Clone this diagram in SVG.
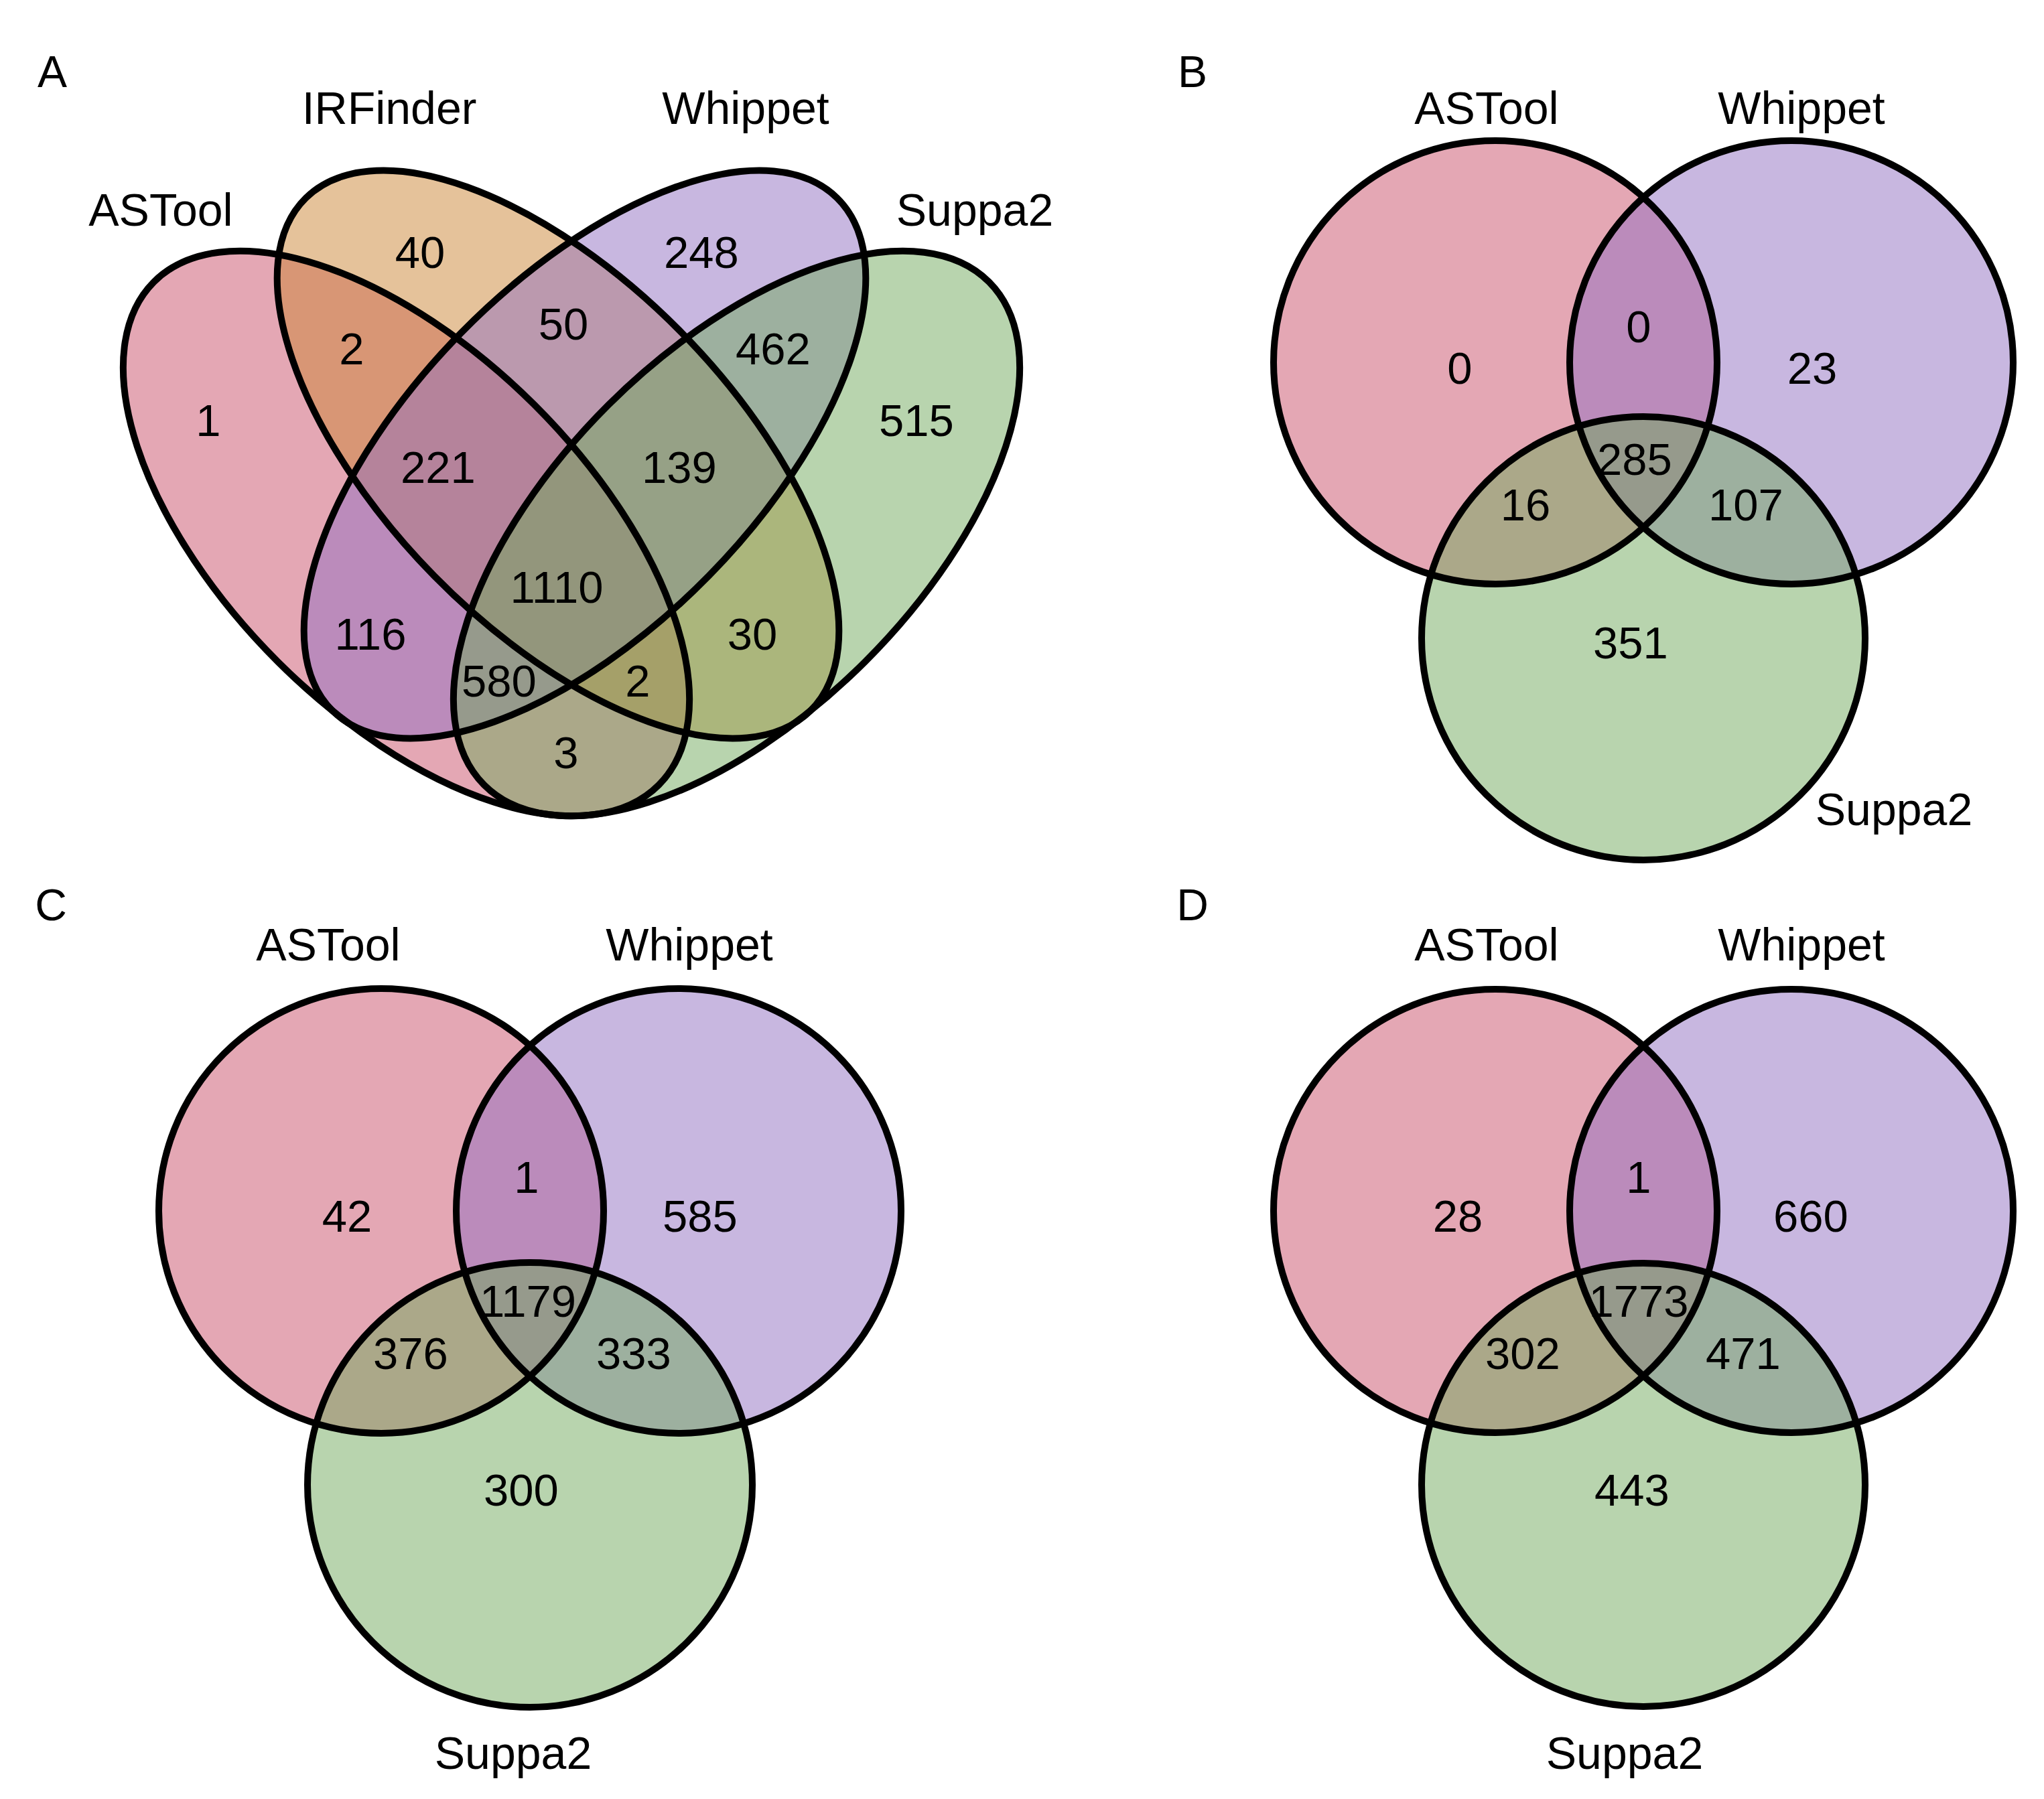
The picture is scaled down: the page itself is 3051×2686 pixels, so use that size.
<svg xmlns="http://www.w3.org/2000/svg" xmlns:xlink="http://www.w3.org/1999/xlink" width="3051" height="2686" viewBox="0 0 3051 2686">
<style>
text{font-family:"Liberation Sans",Arial,sans-serif;fill:#000;text-anchor:middle}
.lab{font-size:68px}
.num{font-size:67px}
.pl{font-size:66px}
.o{fill:none;stroke:#000;stroke-width:10}
.pk{fill:#C94F69;fill-opacity:.5}
.or{fill:#CB8535;fill-opacity:.5}
.pu{fill:#916FC1;fill-opacity:.5}
.gr{fill:#71A95D;fill-opacity:.5}
</style>
<defs>
<ellipse id="eA1" cx="606.5" cy="796.5" rx="532" ry="271" transform="rotate(44.9 606.5 796.5)"/>
<ellipse id="eA2" cx="833" cy="678.5" rx="537" ry="259" transform="rotate(45.5 833 678.5)"/>
<ellipse id="eA3" cx="873" cy="678.5" rx="537" ry="259" transform="rotate(-45.5 873 678.5)"/>
<ellipse id="eA4" cx="1099.5" cy="796.5" rx="532" ry="271" transform="rotate(-44.9 1099.5 796.5)"/>
</defs>
<rect width="3051" height="2686" fill="#fff"/>

<g id="panelA">
<g id="A-fills">
<use id="A-ASTool" xlink:href="#eA1" class="pk"/>
<use id="A-IRFinder" xlink:href="#eA2" class="or"/>
<use id="A-Whippet" xlink:href="#eA3" class="pu"/>
<use id="A-Suppa2" xlink:href="#eA4" class="gr"/>
</g>
<g id="A-outlines">
<use xlink:href="#eA1" class="o"/>
<use xlink:href="#eA2" class="o"/>
<use xlink:href="#eA3" class="o"/>
<use xlink:href="#eA4" class="o"/>
</g>
<text class="pl" x="78" y="130">A</text>
<text class="lab" x="240" y="337">ASTool</text>
<text class="lab" x="581" y="185">IRFinder</text>
<text class="lab" x="1113" y="185">Whippet</text>
<text class="lab" x="1455" y="337">Suppa2</text>
<text class="num" x="627" y="400">40</text>
<text class="num" x="1047" y="400">248</text>
<text class="num" x="525" y="544">2</text>
<text class="num" x="841" y="507">50</text>
<text class="num" x="1154" y="544">462</text>
<text class="num" x="311" y="651">1</text>
<text class="num" x="1368" y="651">515</text>
<text class="num" x="654" y="721">221</text>
<text class="num" x="1014" y="721">139</text>
<text class="num" x="831" y="900">1110</text>
<text class="num" x="553" y="970">116</text>
<text class="num" x="1123" y="970">30</text>
<text class="num" x="745" y="1040">580</text>
<text class="num" x="952" y="1040">2</text>
<text class="num" x="845" y="1147">3</text>
</g>

<g id="panelB">
<g id="B-fills">
<circle id="B-ASTool" class="pk" cx="2232" cy="541" r="331"/>
<circle id="B-Whippet" class="pu" cx="2674" cy="541" r="331"/>
<circle id="B-Suppa2" class="gr" cx="2453" cy="953" r="331"/>
</g>
<g id="B-outlines" class="o">
<circle cx="2232" cy="541" r="331"/>
<circle cx="2674" cy="541" r="331"/>
<circle cx="2453" cy="953" r="331"/>
</g>
<text class="pl" x="1780" y="130">B</text>
<text class="lab" x="2219" y="185">ASTool</text>
<text class="lab" x="2689" y="185">Whippet</text>
<text class="lab" x="2827" y="1232">Suppa2</text>
<text class="num" x="2179" y="573">0</text>
<text class="num" x="2446" y="511">0</text>
<text class="num" x="2705" y="573">23</text>
<text class="num" x="2440" y="709">285</text>
<text class="num" x="2277" y="777">16</text>
<text class="num" x="2606" y="777">107</text>
<text class="num" x="2434" y="983">351</text>
</g>

<g id="panelC">
<g id="C-fills">
<circle id="C-ASTool" class="pk" cx="569" cy="1808" r="332"/>
<circle id="C-Whippet" class="pu" cx="1013" cy="1808" r="332"/>
<circle id="C-Suppa2" class="gr" cx="791" cy="2217" r="332"/>
</g>
<g id="C-outlines" class="o">
<circle cx="569" cy="1808" r="332"/>
<circle cx="1013" cy="1808" r="332"/>
<circle cx="791" cy="2217" r="332"/>
</g>
<text class="pl" x="76" y="1374">C</text>
<text class="lab" x="490" y="1434">ASTool</text>
<text class="lab" x="1029" y="1434">Whippet</text>
<text class="lab" x="766" y="2641">Suppa2</text>
<text class="num" x="518" y="1839">42</text>
<text class="num" x="786" y="1781">1</text>
<text class="num" x="1045" y="1839">585</text>
<text class="num" x="788" y="1966">1179</text>
<text class="num" x="613" y="2044">376</text>
<text class="num" x="946" y="2044">333</text>
<text class="num" x="778" y="2248">300</text>
</g>

<g id="panelD">
<g id="D-fills">
<circle id="D-ASTool" class="pk" cx="2232" cy="1808" r="331"/>
<circle id="D-Whippet" class="pu" cx="2674" cy="1808" r="331"/>
<circle id="D-Suppa2" class="gr" cx="2453" cy="2217" r="331"/>
</g>
<g id="D-outlines" class="o">
<circle cx="2232" cy="1808" r="331"/>
<circle cx="2674" cy="1808" r="331"/>
<circle cx="2453" cy="2217" r="331"/>
</g>
<text class="pl" x="1780" y="1374">D</text>
<text class="lab" x="2219" y="1434">ASTool</text>
<text class="lab" x="2689" y="1434">Whippet</text>
<text class="lab" x="2425" y="2641">Suppa2</text>
<text class="num" x="2176" y="1839">28</text>
<text class="num" x="2446" y="1781">1</text>
<text class="num" x="2703" y="1839">660</text>
<text class="num" x="2446" y="1966">1773</text>
<text class="num" x="2273" y="2044">302</text>
<text class="num" x="2602" y="2044">471</text>
<text class="num" x="2436" y="2248">443</text>
</g>
<g id="connectors"/>
</svg>
